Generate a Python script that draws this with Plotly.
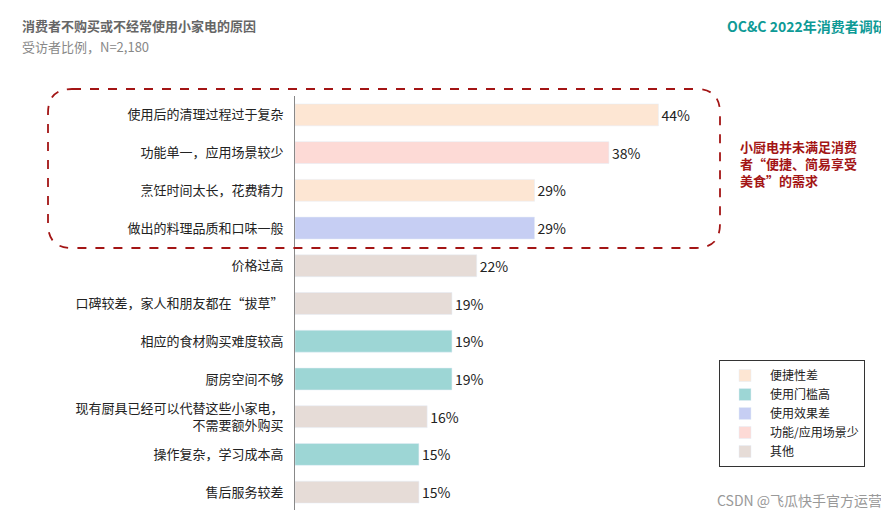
import plotly.graph_objects as go

categories = ["使用后的清理过程过于复杂", "功能单一，应用场景较少", "烹饪时间太长，花费精力", "做出的料理品质和口味一般",
              "价格过高", "口碑较差，家人和朋友都在“拔草”", "相应的食材购买难度较高", "厨房空间不够",
              "现有厨具已经可以代替这些小家电，<br>不需要额外购买", "操作复杂，学习成本高", "售后服务较差"]
values = [44, 38, 29, 29, 22, 19, 19, 19, 16, 15, 15]
groups = ["便捷性差", "功能/应用场景少", "便捷性差", "使用效果差", "其他", "其他", "使用门槛高", "使用门槛高",
          "其他", "使用门槛高", "其他"]
legend_order = ["便捷性差", "使用门槛高", "使用效果差", "功能/应用场景少", "其他"]
colors = {"便捷性差": "#FDE6D3", "使用门槛高": "#9DD6D5", "使用效果差": "#C6CEF3",
          "功能/应用场景少": "#FDDAD6", "其他": "#E6DCD7"}

FONT = "Noto Sans CJK SC"
fig = go.Figure()
for g in legend_order:
    idx = [i for i, x in enumerate(groups) if x == g]
    fig.add_trace(go.Bar(
        y=[categories[i] for i in idx], x=[values[i] for i in idx], orientation="h",
        name=g, marker_color=colors[g], width=0.58,
        text=[f"{values[i]}%" for i in idx], textposition="outside",
        textfont=dict(size=14, color="#222"), cliponaxis=False,
    ))

# pixel-to-paper helpers (plot area: x 287..700, y 88..503)
L, R, T, B = 287, 700, 88, 503
def px(x): return (x - L) / (R - L)
def py(y): return (B - y) / (B - T)

def rounded(x0, y0, x1, y1, r):
    return (f"M {px(x0+r)},{py(y0)} L {px(x1-r)},{py(y0)} Q {px(x1)},{py(y0)} {px(x1)},{py(y0+r)} "
            f"L {px(x1)},{py(y1-r)} Q {px(x1)},{py(y1)} {px(x1-r)},{py(y1)} "
            f"L {px(x0+r)},{py(y1)} Q {px(x0)},{py(y1)} {px(x0)},{py(y1-r)} "
            f"L {px(x0)},{py(y0+r)} Q {px(x0)},{py(y0)} {px(x0+r)},{py(y0)} Z")

fig.add_shape(type="path", xref="paper", yref="paper", path=rounded(40, 81, 712, 240, 24),
              line=dict(color="#A31515", width=1.8, dash="dash"))

fig.update_layout(
    width=889, height=510, barmode="overlay", plot_bgcolor="white", paper_bgcolor="white",
    margin=dict(l=L, r=889 - R, t=T, b=510 - B, autoexpand=False),
    font=dict(family=FONT, size=13, color="#222"),
    xaxis=dict(range=[0, 50], visible=False, automargin=False),
    yaxis=dict(categoryorder="array", categoryarray=categories[::-1], showline=True,
               linecolor="#888", linewidth=1, ticks="", ticklabelstandoff=8, automargin=False,
               tickfont=dict(size=13, color="#222")),
    legend=dict(x=px(711), y=py(352), xanchor="left", yanchor="top", bordercolor="#333",
                borderwidth=1, font=dict(size=12), traceorder="normal",
                itemwidth=40, tracegroupgap=4),
    showlegend=True,
    annotations=[
        dict(text="<b>消费者不购买或不经常使用小家电的原因</b>", x=12, y=18,
             showarrow=False, font=dict(size=13, color="#666")),
        dict(text="受访者比例，N=2,180", x=12, y=38, showarrow=False, font=dict(size=13, color="#888")),
        dict(text="<b>OC&C 2022年消费者调研</b>", x=881, y=18, showarrow=False, xanchor="right",
             font=dict(size=14, color="#0E9A96")),
        dict(text="<b>小厨电并未满足消费<br>者“便捷、简易享受<br>美食”的需求</b>", x=730, y=155,
             showarrow=False, xanchor="left", align="left", font=dict(size=13, color="#A31515")),
        dict(text="CSDN @飞瓜快手官方运营", x=876, y=492, showarrow=False, xanchor="right",
             font=dict(size=14, color="#999")),
    ],
)
for a in fig.layout.annotations:
    a.x = px(a.x)
    a.y = py(a.y)
    a.xref = "paper"
    a.yref = "paper"
    if a.xanchor is None:
        a.xanchor = "left"
    a.yanchor = "middle"

fig.write_html("out.html")
